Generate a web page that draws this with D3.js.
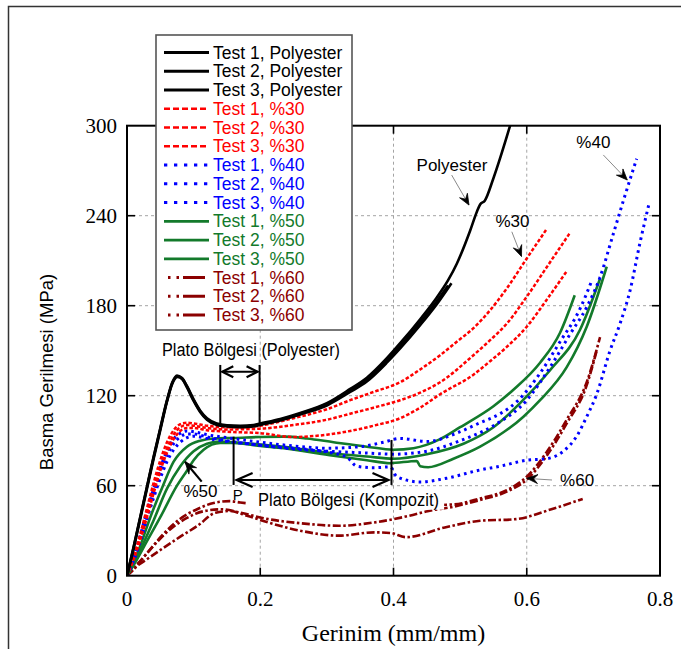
<!DOCTYPE html>
<html><head><meta charset="utf-8">
<script src="https://cdn.jsdelivr.net/npm/d3@7/dist/d3.min.js"></script>
<style>body{margin:0;background:#fff}svg{display:block}</style>
</head><body>
<svg id="c" width="681" height="649"></svg>
<script>
// ---------- data ----------
const xTicks = [0, 0.2, 0.4, 0.6, 0.8];
const xTickLabels = ["0", "0.2", "0.4", "0.6", "0.8"];
const yTicks = [0, 60, 120, 180, 240, 300];
const yTickLabels = ["0", "60", "120", "180", "240", "300"];
const xTitle = "Gerinim (mm/mm)";
const yTitle = "Basma Gerilmesi (MPa)";
const groups = ["Polyester", "%30", "%40", "%50", "%60"];
const tests = ["Test 1", "Test 2", "Test 3"];

// strain (mm/mm), stress (MPa)
const poly1 = [[0,0],[0.01,18],[0.02,38],[0.03,58],[0.04,78],[0.05,97],[0.06,116],[0.068,128],[0.076,132.5],[0.083,131],[0.09,125.5],[0.1,116.5],[0.11,109],[0.12,104],[0.135,100.5],[0.15,99.5],[0.17,99],[0.19,99.5],[0.2,100.5],[0.23,103.5],[0.26,107.5],[0.3,113.5],[0.335,122.5],[0.36,129.5],[0.39,142],[0.41,151.5],[0.44,167],[0.465,181],[0.487,195]];
const poly2 = [[0,0],[0.01,19],[0.02,39],[0.03,59],[0.04,79],[0.05,98],[0.06,116.5],[0.068,128.5],[0.0755,133],[0.083,131.5],[0.09,126],[0.1,117],[0.11,109.5],[0.12,104.5],[0.135,101],[0.15,100],[0.17,99.5],[0.19,100],[0.2,101],[0.23,104],[0.26,108],[0.3,114.5],[0.335,123.5],[0.36,131],[0.39,143.5],[0.41,153],[0.44,169],[0.465,183],[0.482,193.5]];
const poly3 = [[0,0],[0.01,19.5],[0.02,39.5],[0.03,59.5],[0.04,79.5],[0.05,98.5],[0.06,117],[0.068,129],[0.075,133.5],[0.082,132],[0.09,126.5],[0.1,117.5],[0.11,110],[0.12,105],[0.135,101.5],[0.15,100.3],[0.17,100],[0.19,100.5],[0.2,101.5],[0.23,104.5],[0.26,108.5],[0.3,115],[0.335,124.5],[0.36,132],[0.39,145],[0.41,155],[0.44,171],[0.465,185.5],[0.482,197],[0.495,208],[0.515,230],[0.525,242.5],[0.53,247.5],[0.537,250],[0.55,265],[0.575,300]];

const c30_1 = [[0,0],[0.01,13],[0.02,28],[0.03,45],[0.04,62],[0.05,77],[0.06,89],[0.07,97],[0.08,101],[0.09,102],[0.1,101.5],[0.12,100],[0.15,99],[0.18,99],[0.2,100],[0.25,105],[0.3,111],[0.335,117],[0.37,122.5],[0.41,129],[0.44,137.5],[0.47,147],[0.495,156],[0.52,165],[0.545,177],[0.57,191.5],[0.6,211.5],[0.629,230.5]];
const c30_2 = [[0,0],[0.01,12],[0.02,26],[0.03,42],[0.04,58],[0.05,73],[0.06,85],[0.07,94],[0.08,99],[0.09,100.5],[0.1,100],[0.12,98.5],[0.15,97.5],[0.2,98],[0.25,100.5],[0.3,104],[0.335,108],[0.37,112],[0.41,117],[0.44,122],[0.47,129],[0.52,147],[0.545,157],[0.57,168],[0.6,186],[0.635,209],[0.664,228]];
const c30_3 = [[0,0],[0.01,11],[0.02,24],[0.03,39],[0.04,55],[0.05,70],[0.06,82],[0.07,91],[0.08,96.5],[0.09,98.5],[0.1,98.5],[0.12,97],[0.15,96],[0.2,95],[0.25,92.5],[0.3,94],[0.335,96.5],[0.37,100],[0.41,105],[0.44,112],[0.47,121],[0.52,134],[0.545,143],[0.57,152.5],[0.6,166],[0.63,184],[0.66,203]];

const c40_1 = [[0,0],[0.01,12],[0.02,27],[0.03,43],[0.04,58],[0.05,72],[0.06,83],[0.07,91],[0.08,95],[0.09,96.5],[0.1,96],[0.12,94],[0.15,92],[0.2,89],[0.25,86.5],[0.3,85],[0.35,86],[0.385,89],[0.41,91.5],[0.45,89.5],[0.5,96],[0.53,102],[0.56,108],[0.585,116],[0.62,135],[0.65,156],[0.68,178],[0.697,196]];
const c40_2 = [[0,0],[0.01,11],[0.02,25],[0.03,40],[0.04,55],[0.05,69],[0.06,80],[0.07,88],[0.08,92.5],[0.09,94.5],[0.1,94.5],[0.12,92.5],[0.15,90],[0.2,87],[0.25,84.5],[0.3,83],[0.35,82],[0.4,81],[0.45,83],[0.5,90],[0.55,100],[0.6,117],[0.635,139],[0.665,161],[0.69,179],[0.71,199],[0.73,228],[0.745,250],[0.765,278]];
const c40_3 = [[0,0],[0.01,10],[0.02,23],[0.03,38],[0.04,52],[0.05,65],[0.06,76],[0.07,84],[0.08,89],[0.09,92],[0.1,93],[0.12,91.5],[0.15,89.5],[0.2,87],[0.25,85],[0.3,82.5],[0.33,79],[0.345,73],[0.37,72],[0.395,72.5],[0.405,66],[0.44,62.5],[0.48,65],[0.53,70.5],[0.56,73],[0.6,77],[0.63,78],[0.655,83],[0.675,93],[0.69,106],[0.705,121],[0.725,150],[0.74,168],[0.755,190],[0.77,222],[0.783,247]];

const c50_1 = [[0,0],[0.01,9],[0.02,20],[0.035,39],[0.054,60],[0.07,76],[0.09,86],[0.11,90],[0.13,91.5],[0.16,91.8],[0.2,92.5],[0.235,92.7],[0.27,91.5],[0.31,89],[0.36,86],[0.4,84],[0.43,85],[0.47,91],[0.5,99],[0.55,113],[0.58,124],[0.62,142],[0.65,162],[0.672,187]];
const c50_2 = [[0,0],[0.01,8],[0.02,17],[0.04,37],[0.06,58],[0.08,73],[0.1,83],[0.12,88],[0.14,89.5],[0.16,89],[0.2,87.5],[0.235,86],[0.31,81.5],[0.36,79.5],[0.4,78],[0.45,81],[0.505,88],[0.55,99],[0.59,115],[0.635,137],[0.68,164],[0.71,198]];
const c50_3 = [[0,0],[0.01,7],[0.03,23],[0.05,39],[0.075,60],[0.09,70],[0.1,77],[0.115,84],[0.14,88.5],[0.16,88.5],[0.2,86.5],[0.235,85],[0.31,80],[0.36,77],[0.395,75],[0.435,76.5],[0.44,73],[0.452,72.3],[0.49,78],[0.53,86],[0.595,106],[0.62,117],[0.66,139],[0.69,166],[0.72,206]];

const c60_1 = [[0,0],[0.005,3],[0.016,8],[0.03,15],[0.053,27],[0.08,38],[0.106,44.5],[0.13,48.5],[0.154,49.7],[0.17,48.8],[0.2,47.5],[0.25,46.5],[0.3,46],[0.35,46],[0.4,46.5],[0.45,47],[0.49,47.5],[0.53,51.5],[0.57,57],[0.6,66],[0.63,82.5],[0.66,104],[0.69,129],[0.71,159]];
const c60_2 = [[0,0],[0.01,4],[0.02,9.5],[0.04,20],[0.065,31],[0.09,38.5],[0.115,43],[0.143,44.3],[0.17,42],[0.212,37.7],[0.26,35],[0.318,33.3],[0.371,35.5],[0.424,40],[0.451,43],[0.49,46],[0.53,50.5],[0.57,56],[0.6,64],[0.63,80],[0.66,101.5],[0.69,127],[0.705,150]];
const c60_3 = [[0,0],[0.011,5],[0.03,11],[0.053,18],[0.08,26],[0.106,33.3],[0.133,42],[0.154,43.1],[0.18,40],[0.212,35.5],[0.26,30],[0.318,26.7],[0.371,28.9],[0.395,28.5],[0.419,25.7],[0.477,32.2],[0.53,36.6],[0.584,37.7],[0.637,44.3],[0.684,51.2]];

const seriesData = [poly1, poly2, poly3, c30_1, c30_2, c30_3, c40_1, c40_2, c40_3, c50_1, c50_2, c50_3, c60_1, c60_2, c60_3];

// ---------- styles ----------
const styles = {
  "Polyester": {color:"#000000", width:2.6, dash:null, legDash:null, legW:3},
  "%30": {color:"#ff0000", width:2.5, dash:"3.5,2", legDash:"6,3", legW:2.5},
  "%40": {color:"#0000ff", width:3, dash:"2.6,4", legDash:"3.3,6.7", legW:3},
  "%50": {color:"#137a2b", width:2.6, dash:null, legDash:null, legW:2.6},
  "%60": {color:"#8b0000", width:2.6, dash:"8,2.5,2.5,2.5", legDash:"2.5,6,2.5,4,22,20", legW:3}
};
const SANS = "'Liberation Sans', Arial, Helvetica, sans-serif";
const SERIF = "'Liberation Serif', 'Times New Roman', serif";

// ---------- chart ----------
const svg = d3.select("#c");
const x = d3.scaleLinear().domain([0, 0.8]).range([127, 660]);
const y = d3.scaleLinear().domain([0, 300]).range([575.7, 125.7]);
const [X0, X1] = x.range(); const [Y0, Y1] = y.range();

svg.append("rect").attr("width",681).attr("height",649).attr("fill","#fff");
svg.append("path").attr("d","M8.5,649 V6.5 H681").attr("fill","none").attr("stroke","#333").attr("stroke-width",1.5);

// grid
const gGrid = svg.append("g").attr("stroke","#9a9a9a").attr("stroke-width",0.9).attr("stroke-dasharray","3,3");
xTicks.slice(1,-1).forEach(v => gGrid.append("line").attr("x1",x(v)).attr("x2",x(v)).attr("y1",Y1).attr("y2",Y0));
yTicks.slice(1,-1).forEach(v => gGrid.append("line").attr("x1",X0).attr("x2",X1).attr("y1",y(v)).attr("y2",y(v)));

svg.append("clipPath").attr("id","clip").append("rect").attr("x",X0).attr("y",Y1).attr("width",X1-X0).attr("height",Y0-Y1);

const line = d3.line().x(d => x(d[0])).y(d => y(d[1])).curve(d3.curveMonotoneX);
const gCurves = svg.append("g").attr("clip-path","url(#clip)").attr("fill","none").attr("stroke-linejoin","round");
[4,3,2,1,0].forEach(gi => {
  const st = styles[groups[gi]];
  tests.forEach((t, ti) => {
    const p = gCurves.append("path").attr("d", line(seriesData[gi*3+ti]))
      .attr("stroke", st.color).attr("stroke-width", st.width);
    if (st.dash) p.attr("stroke-dasharray", st.dash);
  });
});

// axes frame
svg.append("rect").attr("x",X0).attr("y",Y1).attr("width",X1-X0).attr("height",Y0-Y1)
  .attr("fill","none").attr("stroke","#000").attr("stroke-width",2);
const gT = svg.append("g").attr("stroke","#000").attr("stroke-width",1.6);
const TL = 8;
xTicks.slice(1,-1).forEach(v => {
  gT.append("line").attr("x1",x(v)).attr("x2",x(v)).attr("y1",Y0).attr("y2",Y0-TL);
  gT.append("line").attr("x1",x(v)).attr("x2",x(v)).attr("y1",Y1).attr("y2",Y1+TL);
});
yTicks.slice(1,-1).forEach(v => {
  gT.append("line").attr("x1",X0).attr("x2",X0+TL).attr("y1",y(v)).attr("y2",y(v));
  gT.append("line").attr("x1",X1).attr("x2",X1-TL).attr("y1",y(v)).attr("y2",y(v));
});
xTicks.forEach((v,i) => svg.append("text").attr("x",x(v)).attr("y",Y0+30).attr("text-anchor","middle")
  .attr("font-family",SERIF).attr("font-size",21).text(xTickLabels[i]));
yTicks.forEach((v,i) => svg.append("text").attr("x",X0-10).attr("y",y(v)+7).attr("text-anchor","end")
  .attr("font-family",SERIF).attr("font-size",21).text(yTickLabels[i]));
svg.append("text").attr("x",(X0+X1)/2).attr("y",641).attr("text-anchor","middle")
  .attr("font-family",SERIF).attr("font-size",24).text(xTitle);
svg.append("text").attr("transform","translate(53,372) rotate(-90)").attr("text-anchor","middle")
  .attr("font-family",SANS).attr("font-size",18.5).text(yTitle);

// ---------- annotations ----------
function dart(g, tip, from, len, hw, color) {
  const [tx,ty] = tip, [fx,fy] = from; const a = Math.atan2(ty-fy, tx-fx);
  const ux = Math.cos(a), uy = Math.sin(a), px = -uy, py = ux;
  const bx = tx-ux*len, by = ty-uy*len, nx = tx-ux*len*0.62, ny = ty-uy*len*0.62;
  g.append("path").attr("d",`M${tx},${ty}L${bx+px*hw},${by+py*hw}L${nx},${ny}L${bx-px*hw},${by-py*hw}Z`)
    .attr("fill",color||"#000").attr("stroke",color||"#000").attr("stroke-width",0.8).attr("stroke-linejoin","miter");
}
function chevron(g, tip, dir, len, hw) {
  const [tx,ty] = tip; const bx = tx - dir*len;
  g.append("path").attr("d",`M${bx},${ty-hw}L${tx},${ty}L${bx},${ty+hw}`).attr("fill","none")
    .attr("stroke","#000").attr("stroke-width",2.2);
}
const gA = svg.append("g");
const P = (a) => [x(a[0]), y(a[1])];

const kompLabel = {text:"Plato Bölgesi (Kompozit)", at:[0.3325,46.7]};
gA.append("rect").attr("x",x(0.18)).attr("y",y(57.5)).attr("width",x(0.476)-x(0.18)).attr("height",y(44)-y(57.5)).attr("fill","#fff");

const polyPlateau = {x1:0.14, x2:0.199, top:140.5, bottoms:[100.3,100.8], arrowY:136};
[[polyPlateau.x1,polyPlateau.bottoms[0]],[polyPlateau.x2,polyPlateau.bottoms[1]]].forEach(d =>
  gA.append("line").attr("x1",x(d[0])).attr("x2",x(d[0])).attr("y1",y(polyPlateau.top)).attr("y2",y(d[1]))
    .attr("stroke","#000").attr("stroke-width",2));
gA.append("line").attr("x1",x(polyPlateau.x1)+2).attr("x2",x(polyPlateau.x2)-2).attr("y1",y(polyPlateau.arrowY)).attr("y2",y(polyPlateau.arrowY))
  .attr("stroke","#000").attr("stroke-width",2);
chevron(gA,[x(polyPlateau.x1)+2,y(polyPlateau.arrowY)],-1,11,5.5);
chevron(gA,[x(polyPlateau.x2)-2,y(polyPlateau.arrowY)],1,11,5.5);

const kompPlateau = {x1:0.16, x2:0.397, tops:[92.7,90.5], bottom:60.5, arrowY:63.8};
[[kompPlateau.x1,kompPlateau.tops[0]],[kompPlateau.x2,kompPlateau.tops[1]]].forEach(d =>
  gA.append("line").attr("x1",x(d[0])).attr("x2",x(d[0])).attr("y1",y(d[1])).attr("y2",y(kompPlateau.bottom))
    .attr("stroke","#000").attr("stroke-width",2));
gA.append("line").attr("x1",x(kompPlateau.x1)+3).attr("x2",x(kompPlateau.x2)-3).attr("y1",y(kompPlateau.arrowY)).attr("y2",y(kompPlateau.arrowY))
  .attr("stroke","#000").attr("stroke-width",2);
chevron(gA,[x(kompPlateau.x1)+3,y(kompPlateau.arrowY)],-1,16,7);
chevron(gA,[x(kompPlateau.x2)-3,y(kompPlateau.arrowY)],1,16,7);

const labels = [
  {text:"Plato Bölgesi (Polyester)", at:[0.1861,146.5], size:18, anchor:"middle", len:178},
  {text:kompLabel.text, at:kompLabel.at, size:18, anchor:"middle", len:181},
  {text:"P", at:[0.1662,50.5], size:15, anchor:"middle"},
  {text:"%50", at:[0.1103,52.7], size:17, anchor:"middle"},
  {text:"Polyester", at:[0.4878,269.5], size:17, anchor:"middle"},
  {text:"%30", at:[0.5786,232.3], size:17, anchor:"middle"},
  {text:"%40", at:[0.700,285], size:17, anchor:"middle"},
  {text:"%60", at:[0.650,59.8], size:17, anchor:"start"}
];
labels.forEach(l => {
  const t = gA.append("text").attr("x",x(l.at[0])).attr("y",y(l.at[1])).attr("text-anchor",l.anchor)
    .attr("font-family",SANS).attr("font-size",l.size).attr("fill","#000").text(l.text);
  if (l.len) t.attr("textLength",l.len).attr("lengthAdjust","spacingAndGlyphs");
});

const leaders = [
  {from:[0.4873,267.1], tip:[0.5133,247.1]},
  {from:[0.5776,229.3], tip:[0.5921,212.8]},
  {from:[0.7149,280.5], tip:[0.7509,263.8]},
  {from:[0.6379,63.8], tip:[0.6000,64.9]}
];
leaders.forEach(a => {
  const f = P(a.from), t = P(a.tip);
  gA.append("line").attr("x1",f[0]).attr("y1",f[1]).attr("x2",t[0]).attr("y2",t[1]).attr("stroke","#8a8a8a").attr("stroke-width",1);
  dart(gA, t, f, 11, 4.5, "#000");
});
const arrow50 = {from:[0.1121,62.7], tip:[0.0871,76]};
{ const f = P(arrow50.from), t = P(arrow50.tip);
  gA.append("line").attr("x1",f[0]).attr("y1",f[1]).attr("x2",t[0]).attr("y2",t[1]).attr("stroke","#000").attr("stroke-width",2.2);
  dart(gA, t, f, 12, 5, "#000"); }

// ---------- legend ----------
const leg = svg.append("g");
leg.append("rect").attr("x",156).attr("y",35).attr("width",196).attr("height",295)
  .attr("fill","#fff").attr("stroke","#555").attr("stroke-width",1.6);
groups.forEach((g, gi) => {
  const st = styles[g];
  tests.forEach((t, ti) => {
    const i = gi*3 + ti; const cy = 52.6 + i*18.75;
    const xs = g === "%60" ? 168 : 164, xe = g === "%60" ? 207 : 209;
    const l = leg.append("line").attr("x1",xs).attr("x2",xe).attr("y1",cy).attr("y2",cy)
      .attr("stroke",st.color).attr("stroke-width",st.legW);
    if (st.legDash) l.attr("stroke-dasharray",st.legDash);
    leg.append("text").attr("x",213).attr("y",cy+6).attr("font-family",SANS).attr("font-size",17.5)
      .attr("fill",st.color).text(`${t}, ${g}`);
  });
});
</script>
</body></html>
